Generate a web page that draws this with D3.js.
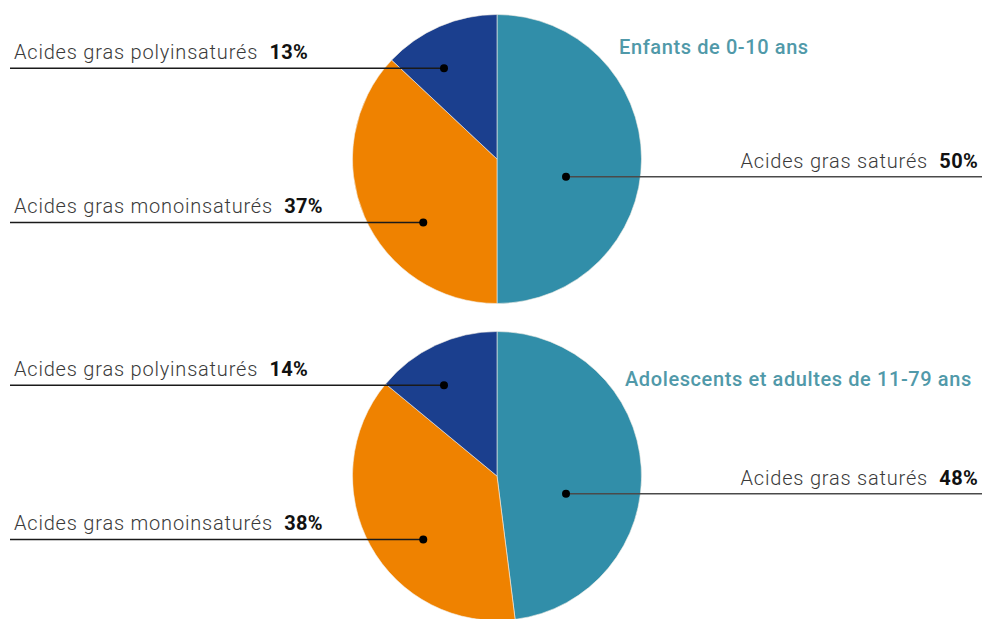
<!DOCTYPE html>
<html>
<head>
<meta charset="utf-8">
<script src="https://cdn.jsdelivr.net/npm/d3@7"></script>
<style>
  html, body { margin: 0; padding: 0; background: #ffffff; }
  svg { display: block; }
</style>
</head>
<body>
<svg id="chart" width="984" height="619"></svg>
<script>
// Fatty-acid composition of intake, by population group
const groups = ["Enfants de 0-10 ans", "Adolescents et adultes de 11-79 ans"];
const categories = ["Acides gras saturés", "Acides gras monoinsaturés", "Acides gras polyinsaturés"];
const childrenValues = [50, 37, 13];
const adultValues = [48, 38, 14];
const seriesValues = [childrenValues, adultValues];

const colors = ["#318ea9", "#ef8200", "#1b3f8e"];

const W = 984, H = 619;
const R = 144.5;
const cx = 497;
const centersY = [159, 476];

// Where each callout dot sits inside its slice (angle in degrees clockwise
// from 12 o'clock, radius as a fraction of the pie radius), and which side
// of the pie its label goes to.
const callouts = [
  { angle: 104.4, rf: 0.493, side: "right" },
  { angle: 229.3, rf: 0.673, side: "left" },
  { angle: 329.7, rf: 0.727, side: "left" }
];

const svg = d3.select("#chart");

const pie = d3.pie().sort(null).value(d => d);
const arc = d3.arc().innerRadius(0).outerRadius(R);

const labelFont = "Roboto, 'Noto Sans', sans-serif";

groups.forEach((title, gi) => {
  const cy = centersY[gi];
  const g = svg.append("g").attr("transform", `translate(${cx},${cy})`);

  const arcs = pie(seriesValues[gi]);
  g.selectAll("path.slice")
    .data(arcs)
    .join("path")
    .attr("class", "slice")
    .attr("d", arc)
    .attr("fill", (d, i) => colors[i])
    .attr("stroke", "#f4efe6")
    .attr("stroke-width", 0.6);

  // Group title
  svg.append("text")
    .attr("x", gi === 0 ? 619 : 625)
    .attr("y", gi === 0 ? 54 : 386)
    .attr("font-family", labelFont)
    .attr("font-weight", 500)
    .attr("font-size", 20)
    .attr("letter-spacing", 0.6)
    .attr("fill", "#5099a9")
    .text(title);

  // Callouts: dot, horizontal leader line, label with bold value
  arcs.forEach((d, i) => {
    const c = callouts[i];
    const a = c.angle * Math.PI / 180;
    const dx = Math.sin(a) * R * c.rf;
    const dy = -Math.cos(a) * R * c.rf;
    const px = cx + dx, py = cy + dy;
    const x0 = c.side === "left" ? 10 : px;
    const x1 = c.side === "left" ? px : 982;

    svg.append("line")
      .attr("x1", x0).attr("x2", x1)
      .attr("y1", py).attr("y2", py)
      .attr("stroke", c.side === "left" ? "#1a1a1a" : "#4a4a4a")
      .attr("stroke-width", 1.5);

    svg.append("circle")
      .attr("cx", px).attr("cy", py).attr("r", 4)
      .attr("fill", "#000");

    const t = svg.append("text")
      .attr("x", c.side === "left" ? 14 : 978)
      .attr("y", py - 9)
      .attr("text-anchor", c.side === "left" ? "start" : "end")
      .attr("font-family", labelFont)
      .attr("font-size", 20)
      .attr("fill", "#3a3a3a");
    t.append("tspan").attr("font-weight", 300).attr("letter-spacing", 0.8)
      .text(categories[i] + "\u00a0 ");
    t.append("tspan").attr("font-weight", 700).attr("fill", "#111").attr("letter-spacing", 0.3)
      .text(d.data + "%");
  });
});
</script>
</body>
</html>
